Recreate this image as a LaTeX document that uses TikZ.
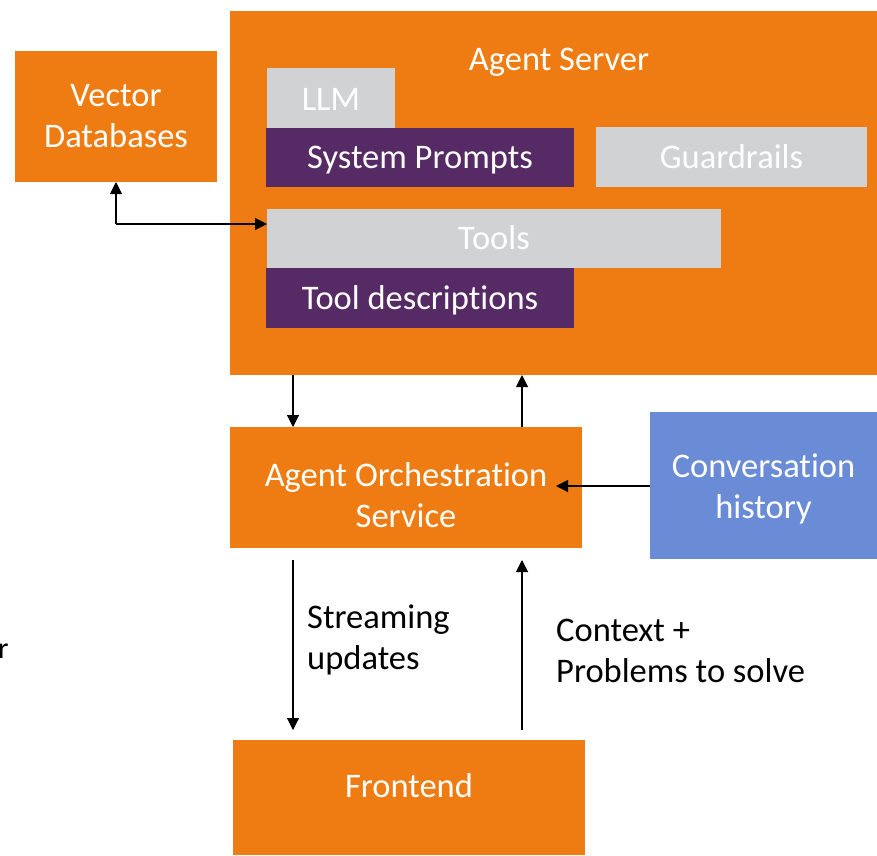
\documentclass[tikz,border=0pt]{standalone}
\usepackage{fontspec}
\setmainfont[Ligatures=NoCommon]{Carlito}
\usetikzlibrary{arrows.meta}
\definecolor{orng}{RGB}{238,124,18}
\definecolor{purp}{RGB}{86,42,100}
\definecolor{gry}{RGB}{209,210,212}
\definecolor{blu}{RGB}{106,139,214}
\begin{document}
\begin{tikzpicture}[x=1pt,y=-1pt,
  rect/.style={inner sep=0pt,outer sep=0pt,draw=none},
  txt/.style={inner sep=0pt,outer sep=0pt,align=center,anchor=base,font=\fontsize{34.5}{41}\selectfont},
  wtxt/.style={txt,text=white},
  lbl/.style={inner sep=0pt,align=left,anchor=base west,font=\fontsize{34.5}{41}\selectfont},
  arr/.style={-{Triangle[length=12pt,width=12pt]},line width=1.1pt}]
\useasboundingbox (0,0) rectangle (877,855);
% boxes
\node[rect,fill=orng,minimum width=647pt,minimum height=364pt] (srv) at (553.5,193) {};
\node[rect,fill=orng,minimum width=202pt,minimum height=131pt] (vdb) at (116,116.5) {};
\node[rect,fill=gry,minimum width=128pt,minimum height=60pt] (llm) at (331,98) {};
\node[rect,fill=purp,minimum width=308pt,minimum height=59pt] (sys) at (420,157.5) {};
\node[rect,fill=gry,minimum width=271pt,minimum height=60pt] (grd) at (731.5,157) {};
\node[rect,fill=gry,minimum width=454pt,minimum height=59pt] (tools) at (494,238.5) {};
\node[rect,fill=purp,minimum width=308pt,minimum height=60pt] (tdesc) at (420,298) {};
\node[rect,fill=orng,minimum width=352pt,minimum height=121pt] (orch) at (406,487.5) {};
\node[rect,fill=blu,minimum width=227pt,minimum height=147pt] (conv) at (763.5,485.5) {};
\node[rect,fill=orng,minimum width=352pt,minimum height=115pt] (front) at (409,797.5) {};
% texts
\node[wtxt] (tsrv) at (559,70) {Agent Server};
\node[wtxt] (tvdb) at (116,147) {Vector\\Databases};
\node[wtxt] (tllm) at (331,110) {LLM};
\node[wtxt] (tsys) at (420,168) {System Prompts};
\node[wtxt] (tgrd) at (731.5,168) {Guardrails};
\node[wtxt] (ttools) at (494,249) {Tools};
\node[wtxt] (ttdesc) at (420,309) {Tool descriptions};
\node[wtxt] (torch) at (406,527) {Agent Orchestration\\Service};
\node[wtxt] (tconv) at (763.5,518) {Conversation\\history};
\node[wtxt] (tfront) at (409,797) {Frontend};
% connectors
\draw[arr] (srv.south -| 293,0) -- (orch.north -| 293,0);
\draw[arr] (orch.north -| 522,0) -- (srv.south -| 522,0);
\coordinate (su0) at (293,560);
\coordinate (su1) at (293,730);
\coordinate (cp0) at (522,730);
\coordinate (cp1) at (522,560);
\draw[arr] (su0) -- (su1);
\draw[arr] (cp0) -- (cp1);
\draw[arr] (conv.west |- 0,486) -- (556,486);
\coordinate (corner) at (116,224);
\draw[arr] (corner) -- (vdb.south);
\draw[arr] (corner) -- (tools.west |- corner);
% labels
\node[lbl] (su) at (307,669) {Streaming\\updates};
\node[lbl] (cp) at (556,682) {Context +\\Problems to solve};
\node[lbl,font=\fontsize{30}{36}\selectfont] (r) at (-2,658) {r};
\end{tikzpicture}
\end{document}
